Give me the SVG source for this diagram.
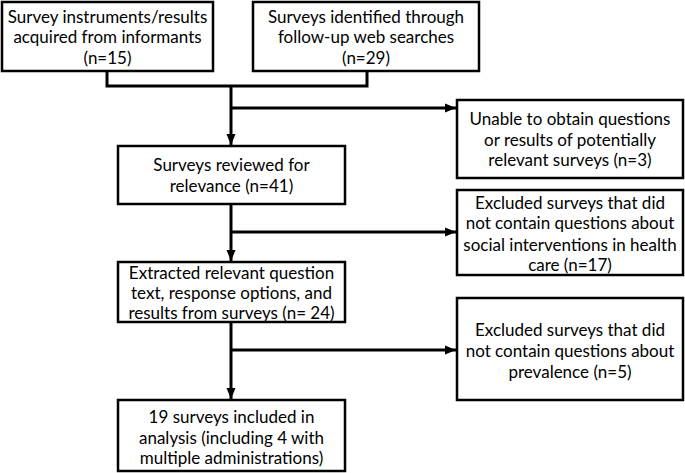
<svg xmlns="http://www.w3.org/2000/svg" width="685" height="473" viewBox="0 0 685 473">
<defs>
<marker id="arr" markerUnits="userSpaceOnUse" markerWidth="12" markerHeight="12" viewBox="0 0 12 12" refX="11" refY="6" orient="auto">
<path d="M0,1.5 L11,6 L0,10.5 Z" fill="#000"/>
</marker>
<style>
.box{fill:#fff;stroke:#000;stroke-width:2.5}
.t{font-family:Lato,"Open Sans","Liberation Sans",sans-serif;font-size:17px;fill:#000;text-anchor:middle}
.c{fill:none;stroke:#000;stroke-width:3}
</style>
</defs>
<rect width="685" height="473" fill="#fff"/>
<g id="connectors">
<path class="c" d="M107,71 V86 H367 V71"/>
<path class="c" d="M231,86 V145" marker-end="url(#arr)"/>
<path class="c" d="M231,108 H456" marker-end="url(#arr)"/>
<path class="c" d="M231,204 V261" marker-end="url(#arr)"/>
<path class="c" d="M231,232 H456" marker-end="url(#arr)"/>
<path class="c" d="M231,322 V399" marker-end="url(#arr)"/>
<path class="c" d="M231,350 H456" marker-end="url(#arr)"/>
</g>
<g id="informants">
<rect class="box" x="2" y="2" width="211" height="69"/>
<text class="t" x="107.5" y="23">Survey instruments/results</text>
<text class="t" x="107.5" y="43">acquired from informants</text>
<text class="t" x="107.5" y="64">(n=15)</text>
</g>
<g id="websearch">
<rect class="box" x="253" y="2" width="226" height="69"/>
<text class="t" x="366" y="23">Surveys identified through</text>
<text class="t" x="366" y="43">follow-up web searches</text>
<text class="t" x="366" y="64">(n=29)</text>
</g>
<g id="unable">
<rect class="box" x="457" y="100" width="226" height="78"/>
<text class="t" x="570" y="125">Unable to obtain questions</text>
<text class="t" x="570" y="146">or results of potentially</text>
<text class="t" x="570" y="166">relevant surveys (n=3)</text>
</g>
<g id="reviewed">
<rect class="box" x="118" y="146" width="227" height="58"/>
<text class="t" x="231.5" y="171">Surveys reviewed for</text>
<text class="t" x="231.5" y="192">relevance (n=41)</text>
</g>
<g id="excluded1">
<rect class="box" x="457" y="190" width="226" height="85"/>
<text class="t" x="570" y="209">Excluded surveys that did</text>
<text class="t" x="570" y="229">not contain questions about</text>
<text class="t" x="570" y="251">social interventions in health</text>
<text class="t" x="570" y="271">care (n=17)</text>
</g>
<g id="extracted">
<rect class="box" x="118" y="262" width="227" height="60"/>
<text class="t" x="231.5" y="279">Extracted relevant question</text>
<text class="t" x="231.5" y="299">text, response options, and</text>
<text class="t" x="231.5" y="319">results from surveys (n= 24)</text>
</g>
<g id="excluded2">
<rect class="box" x="457" y="298" width="226" height="102"/>
<text class="t" x="570" y="336">Excluded surveys that did</text>
<text class="t" x="570" y="357">not contain questions about</text>
<text class="t" x="570" y="378">prevalence (n=5)</text>
</g>
<g id="included">
<rect class="box" x="118" y="400" width="227" height="71"/>
<text class="t" x="231.5" y="423">19 surveys included in</text>
<text class="t" x="231.5" y="444">analysis (including 4 with</text>
<text class="t" x="231.5" y="464">multiple administrations)</text>
</g>
</svg>
